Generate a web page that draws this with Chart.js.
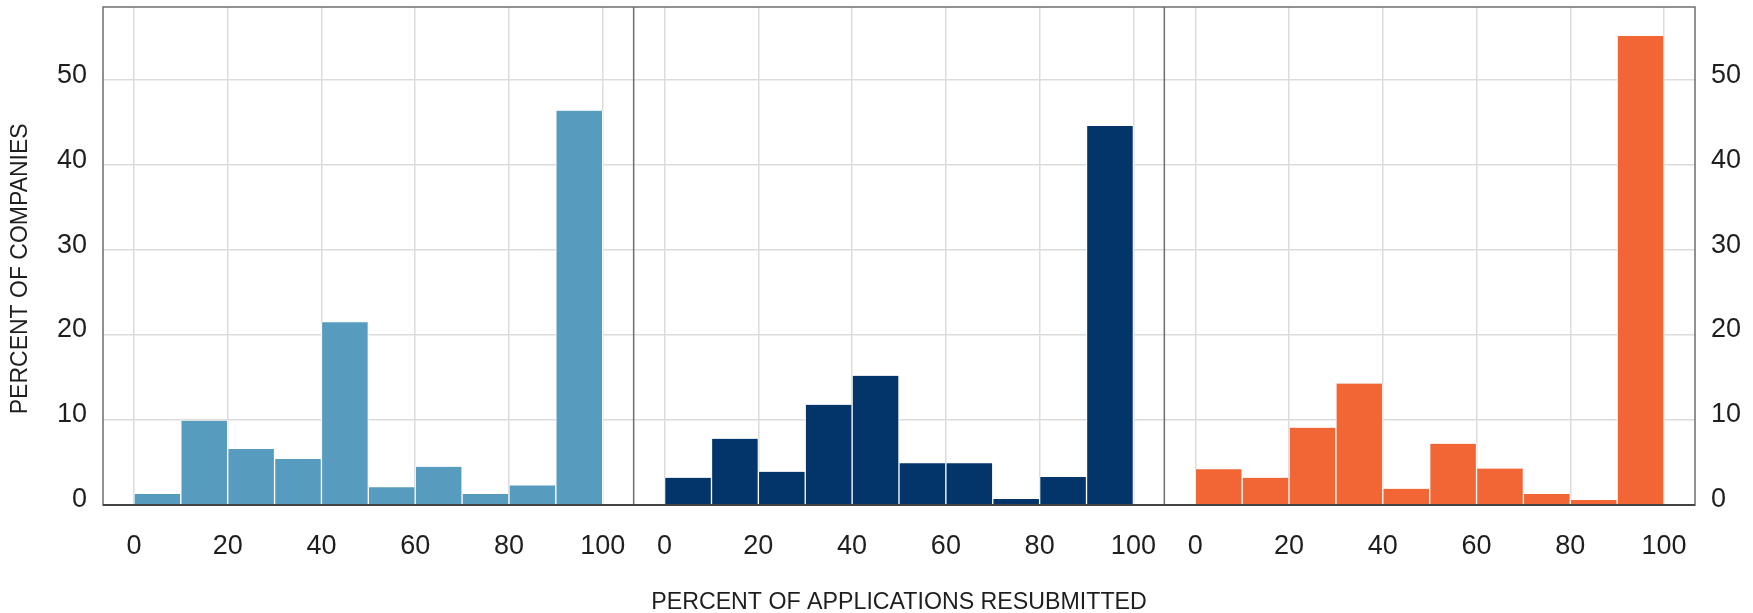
<!DOCTYPE html>
<html>
<head>
<meta charset="utf-8">
<script src="https://cdn.jsdelivr.net/npm/chart.js@4/dist/chart.umd.min.js"></script>
<style>
  html, body { margin: 0; padding: 0; background: #fff; }
  #wrap { width: 1753px; height: 613px; }
</style>
</head>
<body>
<div id="wrap"><canvas id="histChart" width="1753" height="613"></canvas></div>
<script>
// bin centres (percent of applications resubmitted, 10-point bins)
const binCenters = [5, 15, 25, 35, 45, 55, 65, 75, 85, 95];
const xTicks = [0, 20, 40, 60, 80, 100];
const yTicks = [0, 10, 20, 30, 40, 50];

// percent of companies per bin, one array per panel
const panelA = [1.3, 9.9, 6.6, 5.4, 21.5, 2.1, 4.5, 1.3, 2.3, 46.4];
const panelB = [3.2, 7.8, 3.9, 11.8, 15.2, 4.9, 4.9, 0.7, 3.3, 44.6];
const panelC = [4.2, 3.2, 9.1, 14.3, 1.9, 7.2, 4.3, 1.3, 0.6, 55.2];

const colors = ['#579bbf', '#03356a', '#f26535'];
const FONT = "'Liberation Sans', Arial, sans-serif";
const TEXT = '#1e1e1e';
const GRID = '#dcdcdc';

document.addEventListener('DOMContentLoaded', () => {
  const toPoints = vals => binCenters.map((c, i) => ({ x: c, y: vals[i] }));

  const barSet = (vals, color, axis) => ({
    data: toPoints(vals),
    xAxisID: axis,
    yAxisID: 'y',
    grouped: false,
    backgroundColor: color,
    borderColor: '#ffffff',
    borderWidth: { left: 1, right: 1, top: 0, bottom: 0 },
    borderSkipped: false,
    barPercentage: 1,
    categoryPercentage: 1,
  });

  const xAxis = (showTitle) => ({
    type: 'linear',
    position: 'bottom',
    stack: 'panels',
    min: -6.6,
    max: 106.6,
    offset: false,
    afterBuildTicks: s => { s.ticks = xTicks.map(v => ({ value: v })); },
    afterFit: s => { s.height = 108; s.paddingLeft = 0; s.paddingRight = 0; },
    ticks: { color: TEXT, font: { family: FONT, size: 27 }, padding: 25, maxRotation: 0, autoSkip: false },
    grid: { color: GRID, lineWidth: 1.5, drawTicks: false, offset: false },
    border: { display: false },
    title: {
      display: showTitle,
      text: 'PERCENT OF APPLICATIONS RESUBMITTED',
      color: TEXT,
      font: { family: FONT, size: 23.2, lineHeight: 0.9 },
      padding: { top: 0, bottom: 0 },
    },
  });

  const yAxis = (pos, width, withGrid, title) => ({
    type: 'linear',
    position: pos,
    min: 0,
    max: 58.6,
    afterBuildTicks: s => { s.ticks = yTicks.map(v => ({ value: v })); },
    afterFit: s => { s.width = width; s.paddingTop = 0; s.paddingBottom = 0; },
    ticks: { color: TEXT, font: { family: FONT, size: 27 }, padding: 16, labelOffset: -5 },
    grid: { display: withGrid, color: GRID, lineWidth: 1.5, drawTicks: false },
    border: { display: false },
    title: {
      display: !!title,
      text: title || '',
      color: TEXT,
      font: { family: FONT, size: 23, lineHeight: 1.2 },
      padding: { top: 7, bottom: 0 },
    },
  });

  // outer frame and panel dividers, drawn on top of bars
  const framePlugin = {
    id: 'frame',
    afterDatasetsDraw(chart) {
      const { ctx, chartArea: a, scales } = chart;
      ctx.save();
      ctx.strokeStyle = '#6e6e6e';
      ctx.lineWidth = 1.5;
      ctx.strokeRect(a.left, a.top, a.right - a.left, a.bottom - a.top);
      ['x2', 'x3'].forEach(id => {
        const x = scales[id].left;
        ctx.beginPath();
        ctx.moveTo(x, a.top);
        ctx.lineTo(x, a.bottom);
        ctx.stroke();
      });
      ctx.strokeStyle = '#444';
      ctx.lineWidth = 2;
      ctx.beginPath();
      ctx.moveTo(a.left, a.bottom);
      ctx.lineTo(a.right, a.bottom);
      ctx.stroke();
      ctx.restore();
    }
  };

  new Chart(document.getElementById('histChart').getContext('2d'), {
    type: 'bar',
    data: {
      datasets: [
        barSet(panelA, colors[0], 'x1'),
        barSet(panelB, colors[1], 'x2'),
        barSet(panelC, colors[2], 'x3'),
      ]
    },
    options: {
      responsive: false,
      animation: false,
      layout: { padding: { top: 7, left: 0, right: 0, bottom: 0 } },
      plugins: { legend: { display: false }, tooltip: { enabled: false } },
      scales: {
        x1: xAxis(false),
        x2: xAxis(true),
        x3: xAxis(false),
        y: yAxis('left', 103, true, 'PERCENT OF COMPANIES    '),
        y2: yAxis('right', 58, false, null),
      }
    },
    plugins: [framePlugin]
  });
});
</script>
</body>
</html>
